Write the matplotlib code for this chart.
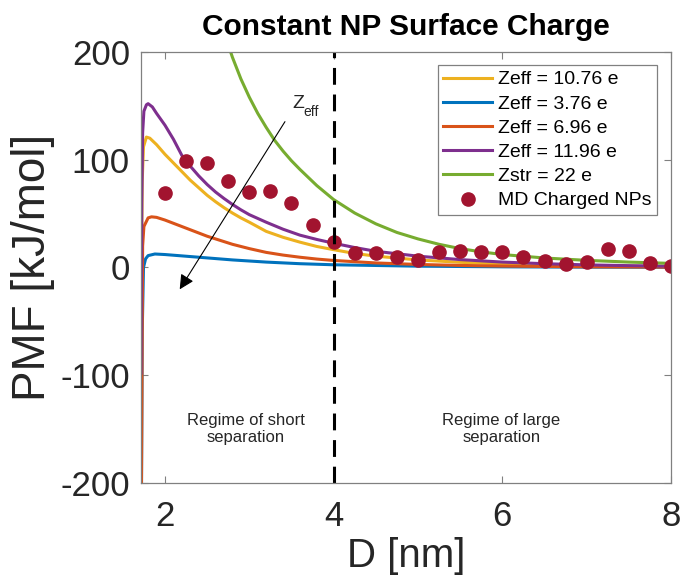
import matplotlib
matplotlib.use("Agg")
import matplotlib.pyplot as plt

plt.rcParams['font.family'] = ['Liberation Sans', 'DejaVu Sans']
plt.rcParams['axes.unicode_minus'] = False

# curve values (D in nm, PMF in kJ/mol)
d_yellow = [1.716, 1.722, 1.73, 1.745, 1.78, 1.82, 1.9, 2.0, 2.1, 2.2, 2.3, 2.4, 2.5,
            2.6, 2.7, 2.8, 2.9, 3.0, 3.2, 3.4, 3.6, 3.8, 4.0, 4.25, 4.5, 5.0, 5.5,
            6.0, 6.5, 7.0, 7.5, 8.0]
pmf_yellow = [-132, 0, 80, 112, 121, 120, 114, 105, 97, 89, 81, 74, 67,
              61, 55.5, 50.5, 46, 42, 33.5, 28, 23.5, 19.5, 16.5, 13, 10.5, 7, 4.8,
              3.3, 2.3, 1.6, 1.1, 0.8]

d_blue = [1.716, 1.73, 1.745, 1.77, 1.8, 1.88, 2.0, 2.4, 2.8, 3.2, 3.6, 4.0,
          5.0, 6.0, 7.0, 8.0]
pmf_blue = [-300, -60, 0, 8, 11, 12.5, 12, 9.5, 7, 5, 3.5, 2.5,
            1.2, 0.6, 0.3, 0.15]

d_orange = [1.716, 1.72, 1.735, 1.75, 1.8, 1.84, 1.9, 2.0, 2.1, 2.2, 2.3, 2.4, 2.5,
            2.6, 2.7, 2.8, 2.9, 3.0, 3.2, 3.4, 3.6, 3.8, 4.0, 4.5, 5.0, 5.5, 6.0,
            7.0, 8.0]
pmf_orange = [-260, -220, 20, 38, 46, 47, 46.5, 44, 41, 38, 35, 32, 29,
              26.5, 24, 21.5, 19.5, 17.5, 14, 11.5, 9.5, 7.8, 6.5, 4.2, 2.8, 1.9, 1.3,
              0.6, 0.3]

d_purple = [1.716, 1.725, 1.735, 1.75, 1.78, 1.80, 1.85, 1.9, 2.0, 2.1, 2.2, 2.3, 2.4,
            2.5, 2.6, 2.7, 2.8, 2.9, 3.0, 3.2, 3.4, 3.6, 3.8, 4.0, 4.25, 4.5, 5.0,
            5.5, 6.0, 6.5, 7.0, 7.5, 8.0]
pmf_purple = [-98, 60, 125, 145, 151, 152, 149, 143, 132, 119, 104, 94, 85,
              77, 70, 64, 58.5, 53.5, 49, 42, 35.5, 30, 26, 22.5, 18.5, 15, 10.5,
              7.3, 5, 3.5, 2.4, 1.7, 1.2]

d_green = [2.6, 2.7, 2.8, 2.9, 3.0, 3.1, 3.2, 3.3, 3.4, 3.5, 3.6, 3.8, 4.0, 4.25,
           4.5, 4.75, 5.0, 5.25, 5.5, 5.75, 6.0, 6.5, 7.0, 7.5, 8.0]
pmf_green = [245, 218, 195, 175, 158, 143, 130, 118, 108, 99, 91, 76, 63, 50.5,
             40.5, 32.5, 26.5, 21.5, 17.5, 14.5, 12, 8.8, 6.6, 5, 3.8]

# MD points
d_md = [2.0, 2.25, 2.5, 2.75, 3.0, 3.25, 3.5, 3.75, 4.0, 4.25, 4.5, 4.75, 5.0,
        5.25, 5.5, 5.75, 6.0, 6.25, 6.5, 6.75, 7.0, 7.25, 7.5, 7.75, 8.0]
pmf_md = [69, 99, 97, 80, 70, 71, 60, 39, 24, 13, 13, 10, 6.5,
          14, 15, 14, 14, 9.5, 5.6, 3, 5.5, 17, 15, 4.6, 1]

labels = ['Zeff = 10.76 e', 'Zeff = 3.76 e', 'Zeff = 6.96 e',
          'Zeff = 11.96 e', 'Zstr = 22 e', 'MD Charged NPs']

fig = plt.figure(figsize=(6.8, 5.78), dpi=100)
ax = fig.add_axes([0.2074, 0.1644, 0.7794, 0.7457])

lw = 2.2
ax.plot(d_yellow, pmf_yellow, color='#EDB120', lw=lw, label=labels[0])
ax.plot(d_blue, pmf_blue, color='#0072BD', lw=lw, label=labels[1])
ax.plot(d_orange, pmf_orange, color='#D95319', lw=lw, label=labels[2])
ax.plot(d_purple, pmf_purple, color='#7E2F8E', lw=lw, label=labels[3])
ax.plot(d_green, pmf_green, color='#77AC30', lw=lw, label=labels[4])
ax.plot(d_md, pmf_md, 'o', color='#A2142F', markersize=9.5, label=labels[5])

ax.axvline(4, color='k', lw=2.2, dashes=(5.5, 3.2))

ax.set_xlim(1.716, 8.0)
ax.set_ylim(-200, 200)
ax.set_xticks([2, 4, 6, 8])
ax.set_yticks([-200, -100, 0, 100, 200])

ax.tick_params(direction='in', top=True, right=True, length=5, width=0.8,
               color='#808080', labelsize=25, labelcolor='#262626', pad=8)
ax.tick_params(axis='x', pad=12)
for s in ax.spines.values():
    s.set_color('#808080')
    s.set_linewidth(0.9)

ax.set_xlabel('D [nm]', fontsize=29, color='#262626', labelpad=3)
ax.set_ylabel('PMF [kJ/mol]', fontsize=33, color='#262626', labelpad=4)
ax.set_title('Constant NP Surface Charge', fontsize=21.5, fontweight='bold', pad=12)

leg = ax.legend(loc='upper right', bbox_to_anchor=(0.974, 0.970), borderaxespad=0,
                fontsize=14, numpoints=1, handlelength=2.5, handletextpad=0.3,
                labelspacing=0.34, borderpad=0.3, fancybox=False, framealpha=1)
leg.get_frame().set_edgecolor('#808080')
leg.get_frame().set_linewidth(0.9)

# arrow showing increasing Zeff
ax.annotate('', xy=(2.157, -22.5), xytext=(3.44, 137.5),
            arrowprops=dict(arrowstyle='-|>', color='k', lw=0.8, mutation_scale=22))
ax.text(3.509, 148, 'Z', fontsize=14, color='#262626')
ax.text(3.637, 140.6, 'eff', fontsize=10, color='#262626')

ax.text(2.96, -150, 'Regime of short\nseparation', fontsize=12, ha='center',
        va='center', color='#262626', linespacing=1.2)
ax.text(5.99, -150, 'Regime of large\nseparation', fontsize=12, ha='center',
        va='center', color='#262626', linespacing=1.2)

fig.savefig('out.png', dpi=100)
